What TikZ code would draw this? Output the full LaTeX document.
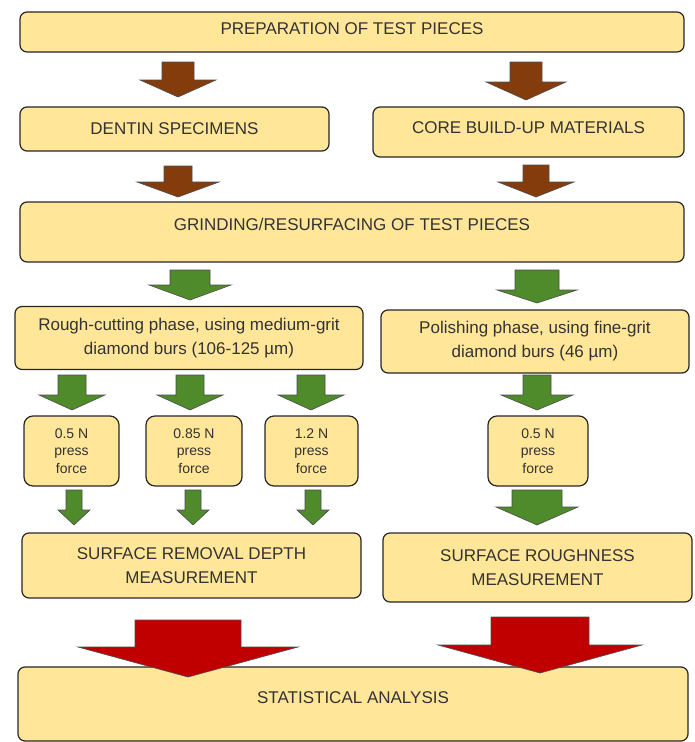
\documentclass[tikz,border=0pt]{standalone}
\usepackage{fontspec}
\setmainfont{Liberation Sans}
\usepackage{xcolor}
\usetikzlibrary{positioning}

\definecolor{boxfill}{HTML}{FFE699}
\definecolor{boxtext}{HTML}{333333}
\definecolor{arrbrown}{HTML}{843C0C}
\definecolor{arrgreen}{HTML}{4F8A2B}
\definecolor{arrred}{HTML}{C00000}

% fat arrow: style, x, y top, y head, y tip, shaft half width, head half width
\newcommand{\fatarrow}[7]{%
  \filldraw[#1] ({#2-#6},#3) -- ({#2+#6},#3) -- ({#2+#6},#4) -- ({#2+#7},#4)
    -- (#2,#5) -- ({#2-#7},#4) -- ({#2-#6},#4) -- cycle;}

\begin{document}
\begin{tikzpicture}[
            x=1pt, y=-1pt,
            box/.style={draw=black!85, line width=1.2pt, fill=boxfill, rounded corners=7pt,
                text=boxtext, align=center, inner sep=0pt,
                font=\fontsize{17}{24}\selectfont},
            raised/.style={text height=12pt, text depth=#1},
            forcebox/.style={box, rounded corners=9pt, font=\fontsize{14}{17.5}\selectfont},
            brownarr/.style={fill=arrbrown, draw=black!70, line width=0.6pt},
            greenarr/.style={fill=arrgreen, draw=black!70, line width=0.6pt},
            redarr/.style={fill=arrred, draw=black!70, line width=0.6pt}
        ]
            \useasboundingbox (0,0) rectangle (694,742);
            % Boxes
            \node[box, raised=8pt, minimum width=664pt, minimum height=40pt] (prep) at (352,32) {PREPARATION OF TEST PIECES};
            \node[box, minimum width=309pt, minimum height=44pt] (dentin) at (174.5,129) {DENTIN SPECIMENS};
            \node[box, raised=10pt, minimum width=311pt, minimum height=50pt] (core) at (528.5,132) {CORE BUILD-UP MATERIALS};
            \node[box, raised=16pt, minimum width=664pt, minimum height=60pt] (grind) at (352,232) {GRINDING/RESURFACING OF TEST PIECES};
            \node[box, minimum width=348pt, minimum height=63pt] (rough) at (189,338) {Rough-cutting phase, using medium-grit\\diamond burs (106-125 µm)};
            \node[box, minimum width=308pt, minimum height=63pt] (polish) at (535,341.5) {Polishing phase, using fine-grit\\diamond burs (46 µm)};
            \node[forcebox, minimum width=95pt, minimum height=70pt] (forceA) at (71.5,451) {0.5 N\\press\\force};
            \node[forcebox, minimum width=96pt, minimum height=70pt] (forceB) at (194,451) {0.85 N\\press\\force};
            \node[forcebox, minimum width=93pt, minimum height=70pt] (forceC) at (311.5,451) {1.2 N\\press\\force};
            \node[forcebox, minimum width=100pt, minimum height=70pt] (forceD) at (538,451) {0.5 N\\press\\force};
            \node[box, minimum width=339pt, minimum height=65pt] (depth) at (191.5,565.5) {SURFACE REMOVAL DEPTH\\MEASUREMENT};
            \node[box, minimum width=309pt, minimum height=69pt] (rness) at (537.5,567.5) {SURFACE ROUGHNESS\\MEASUREMENT};
            \node[box, raised=14pt, minimum width=670pt, minimum height=74pt] (stat) at (353,704) {STATISTICAL ANALYSIS};
            % Arrows
            \fatarrow{brownarr}{178}{62}{80}{97}{16}{38}
            \fatarrow{brownarr}{526}{62}{82}{100}{16}{40}
            \fatarrow{brownarr}{178}{166}{182}{197}{14}{41}
            \fatarrow{brownarr}{536}{165}{182}{197}{13}{38}
            \fatarrow{greenarr}{190}{270}{285}{300}{20}{41}
            \fatarrow{greenarr}{537}{270}{290}{303}{22}{40}
            \fatarrow{greenarr}{72}{375}{395}{410}{14}{33}
            \fatarrow{greenarr}{190}{375}{395}{410}{14}{33}
            \fatarrow{greenarr}{311}{375}{395}{410}{14}{33}
            \fatarrow{greenarr}{537}{375}{395}{410}{14}{36}
            \fatarrow{greenarr}{74}{490}{510}{525}{8}{16}
            \fatarrow{greenarr}{193}{490}{510}{525}{8}{16}
            \fatarrow{greenarr}{313}{490}{510}{525}{8}{16}
            \fatarrow{greenarr}{537}{490}{507}{525}{25}{41}
            \fatarrow{redarr}{188}{620}{647}{677}{53}{110}
            \fatarrow{redarr}{540}{617}{645}{673}{49}{102}
        \end{tikzpicture}
\end{document}
